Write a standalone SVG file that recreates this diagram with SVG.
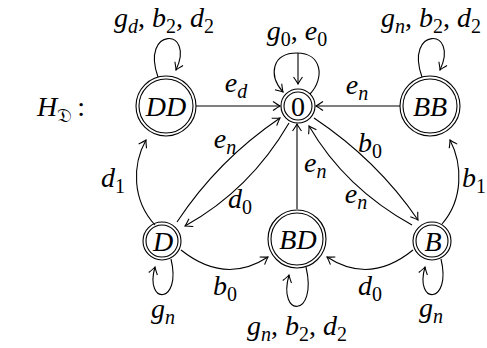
<svg xmlns="http://www.w3.org/2000/svg" width="487" height="348" viewBox="0 0 487 348">
<style>
.ring{fill:none;stroke:#000;stroke-width:1.1}
.e{fill:none;stroke:#000;stroke-width:1.1;marker-end:url(#a)}
.t{font-family:"Liberation Serif","DejaVu Serif",serif;font-size:28px;fill:#000}
.i{font-style:italic}
.s{font-size:20px}
</style>
<defs>
<marker id="a" markerWidth="12" markerHeight="12" refX="0" refY="0" viewBox="-10 -6 12 12" orient="auto" markerUnits="userSpaceOnUse"><path d="M-7,-4.5 Q-2,-1 0,0 Q-2,1 -7,4.5" fill="none" stroke="#000" stroke-width="1.1"/></marker>
</defs>
<rect width="487" height="348" fill="#fff"/>
<text class="t" x="37" y="116"><tspan class="i">H</tspan><tspan class="s" dy="6">𝔇</tspan><tspan dy="-6" dx="5">:</tspan></text>
<g id="connectors">
<path class="e" d="M196,106 L280,106"/>
<path class="e" d="M400,106 L316,106"/>
<path class="e" d="M297,209 L297,124"/>
<path class="e" d="M155,225 C132,200 132,165 146,140"/>
<path class="e" d="M442,224 C463,200 463,165 450,140"/>
<path class="e" d="M177,222 Q218,160 280,118"/>
<path class="e" d="M289,123 Q250,190 185,226"/>
<path class="e" d="M314,118 Q377,160 418,220"/>
<path class="e" d="M412,225 Q345,188 309,126"/>
<path class="e" d="M181,250 Q225,285 268,257"/>
<path class="e" d="M413,250 Q370,285 327,257"/>
<path class="e" d="M158,77 C140,27 196,27 176,70"/>
<path class="e" d="M422,77 C404,27 460,27 440,70"/>
<path class="e" d="M310,94 C325,78 322,53 297,53 C272,53 268,75 283,92"/>
<path class="e" d="M298,53 L298,84"/>
<path class="e" d="M171,259 C182,305 144,305 155,267"/>
<path class="e" d="M306,267 C318,318 277,318 289,275"/>
<path class="e" d="M441,259 C452,305 414,305 425,267"/>
</g>
<g id="edge-labels">
<text class="t" x="236" y="92" text-anchor="middle"><tspan class="i">e</tspan><tspan class="s i" dy="6">d</tspan></text>
<text class="t" x="357" y="94" text-anchor="middle"><tspan class="i">e</tspan><tspan class="s i" dy="6">n</tspan></text>
<text class="t" x="304" y="172"><tspan class="i">e</tspan><tspan class="s i" dy="6">n</tspan></text>
<text class="t" x="225" y="148" text-anchor="middle"><tspan class="i">e</tspan><tspan class="s i" dy="6">n</tspan></text>
<text class="t" x="240" y="208" text-anchor="middle"><tspan class="i">d</tspan><tspan class="s" dy="6">0</tspan></text>
<text class="t" x="370" y="152" text-anchor="middle"><tspan class="i">b</tspan><tspan class="s" dy="6">0</tspan></text>
<text class="t" x="356" y="203" text-anchor="middle"><tspan class="i">e</tspan><tspan class="s i" dy="6">n</tspan></text>
<text class="t" x="113" y="187" text-anchor="middle"><tspan class="i">d</tspan><tspan class="s" dy="6">1</tspan></text>
<text class="t" x="462" y="187"><tspan class="i">b</tspan><tspan class="s" dy="6">1</tspan></text>
<text class="t" x="225" y="295" text-anchor="middle"><tspan class="i">b</tspan><tspan class="s" dy="6">0</tspan></text>
<text class="t" x="370" y="295" text-anchor="middle"><tspan class="i">d</tspan><tspan class="s" dy="6">0</tspan></text>
<text class="t" x="297" y="40" text-anchor="middle"><tspan class="i">g</tspan><tspan class="s" dy="6">0</tspan><tspan dy="-6">, </tspan><tspan class="i">e</tspan><tspan class="s" dy="6">0</tspan></text>
<text class="t" x="164" y="27" text-anchor="middle"><tspan class="i">g</tspan><tspan class="s i" dy="6">d</tspan><tspan dy="-6">, </tspan><tspan class="i">b</tspan><tspan class="s" dy="6">2</tspan><tspan dy="-6">, </tspan><tspan class="i">d</tspan><tspan class="s" dy="6">2</tspan></text>
<text class="t" x="431" y="27" text-anchor="middle"><tspan class="i">g</tspan><tspan class="s i" dy="6">n</tspan><tspan dy="-6">, </tspan><tspan class="i">b</tspan><tspan class="s" dy="6">2</tspan><tspan dy="-6">, </tspan><tspan class="i">d</tspan><tspan class="s" dy="6">2</tspan></text>
<text class="t" x="163" y="318" text-anchor="middle"><tspan class="i">g</tspan><tspan class="s i" dy="6">n</tspan></text>
<text class="t" x="297" y="335" text-anchor="middle"><tspan class="i">g</tspan><tspan class="s i" dy="6">n</tspan><tspan dy="-6">, </tspan><tspan class="i">b</tspan><tspan class="s" dy="6">2</tspan><tspan dy="-6">, </tspan><tspan class="i">d</tspan><tspan class="s" dy="6">2</tspan></text>
<text class="t" x="431" y="317" text-anchor="middle"><tspan class="i">g</tspan><tspan class="s i" dy="6">n</tspan></text>
</g>
<g id="node-DD"><circle class="ring" cx="166" cy="106" r="30"/><circle class="ring" cx="166" cy="106" r="27"/><text class="t i" x="166" y="116" text-anchor="middle">DD</text></g>
<g id="node-0"><circle class="ring" cx="298" cy="106" r="17"/><circle class="ring" cx="298" cy="106" r="14"/><text class="t" x="298" y="115.5" text-anchor="middle">0</text></g>
<g id="node-BB"><circle class="ring" cx="430" cy="106" r="30"/><circle class="ring" cx="430" cy="106" r="27"/><text class="t i" x="430" y="116" text-anchor="middle">BB</text></g>
<g id="node-D"><circle class="ring" cx="162" cy="241" r="19"/><circle class="ring" cx="162" cy="241" r="16"/><text class="t i" x="163" y="250.5" text-anchor="middle">D</text></g>
<g id="node-BD"><circle class="ring" cx="297" cy="239" r="29"/><circle class="ring" cx="297" cy="239" r="26"/><text class="t i" x="298" y="249" text-anchor="middle">BD</text></g>
<g id="node-B"><circle class="ring" cx="432" cy="241" r="19"/><circle class="ring" cx="432" cy="241" r="16"/><text class="t i" x="433" y="250.5" text-anchor="middle">B</text></g>
</svg>
